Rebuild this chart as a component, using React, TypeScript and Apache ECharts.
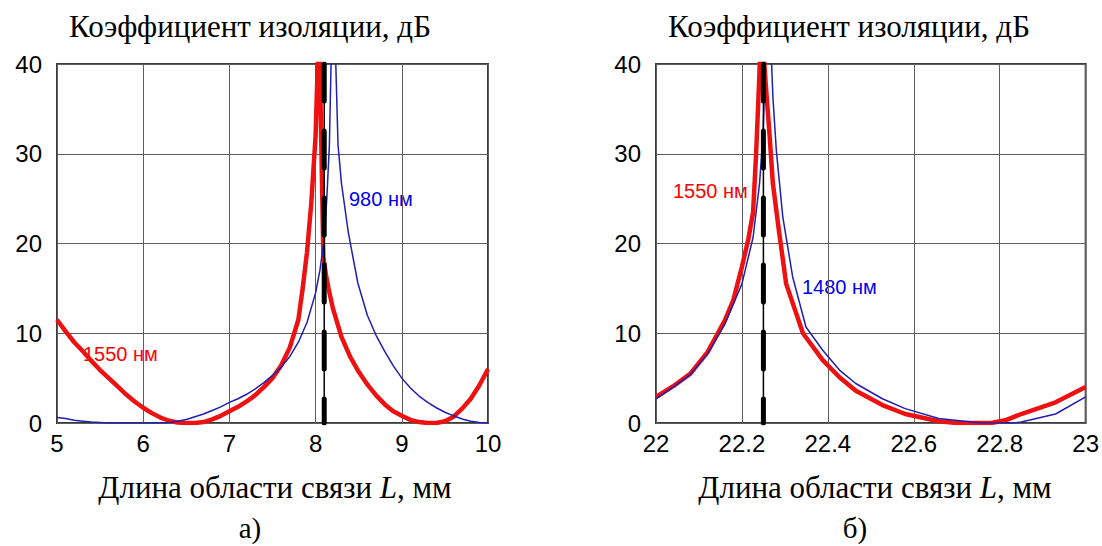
import React, { useEffect, useRef } from "react";
import * as echarts from "echarts";

// Panel а): L from 5 to 10 mm
const red1550A: [number, number][] = [
  [5.0, 11.5], [5.1, 10.2], [5.2, 9.0], [5.3, 8.0], [5.4, 6.9], [5.5, 5.9], [5.6, 5.0], [5.7, 4.1],
  [5.8, 3.2], [5.9, 2.4], [6.0, 1.7], [6.1, 1.1], [6.2, 0.6], [6.3, 0.25], [6.4, 0.05], [6.5, 0],
  [6.6, 0], [6.7, 0.1], [6.8, 0.4], [6.9, 0.8], [7.0, 1.3], [7.1, 1.8], [7.2, 2.4], [7.3, 3.1],
  [7.4, 4.0], [7.5, 5.0], [7.6, 6.4], [7.7, 8.4], [7.8, 11.5], [7.85, 15], [7.9, 19], [7.95, 24.5],
  [8.0, 32], [8.04, 45], [8.09, 18.5], [8.12, 16.5], [8.15, 15], [8.2, 12.8], [8.3, 9.6], [8.4, 7.4],
  [8.5, 5.7], [8.6, 4.3], [8.7, 3.1], [8.8, 2.1], [8.9, 1.3], [9.0, 0.8], [9.1, 0.35], [9.2, 0.1],
  [9.3, 0], [9.4, 0], [9.5, 0.2], [9.6, 0.7], [9.7, 1.6], [9.8, 2.7], [9.9, 4.2], [10.0, 6.0],
];
const blue980A: [number, number][] = [
  [5.0, 0.6], [5.1, 0.5], [5.2, 0.3], [5.3, 0.2], [5.4, 0.1], [5.5, 0.05], [5.6, 0], [6.2, 0],
  [6.3, 0.05], [6.4, 0.2], [6.5, 0.4], [6.6, 0.7], [6.7, 1.0], [6.8, 1.4], [6.9, 1.8], [7.0, 2.3],
  [7.1, 2.7], [7.2, 3.2], [7.3, 3.8], [7.4, 4.5], [7.5, 5.3], [7.6, 6.2], [7.7, 7.4], [7.8, 9.0],
  [7.9, 11.2], [8.0, 14.5], [8.05, 17], [8.1, 20.5], [8.13, 25], [8.16, 31], [8.19, 45], [8.22, 45],
  [8.24, 38], [8.26, 31], [8.3, 26.7], [8.38, 21.2], [8.49, 15.6], [8.6, 12], [8.7, 9.8], [8.8, 8.0],
  [8.9, 6.4], [9.0, 5.0], [9.1, 3.9], [9.2, 3.0], [9.3, 2.3], [9.4, 1.7], [9.5, 1.2], [9.6, 0.8],
  [9.7, 0.45], [9.8, 0.2], [9.9, 0.05], [10.0, 0],
];
const markerA = 8.1;

// Panel б): L from 22 to 23 mm
const red1550B: [number, number][] = [
  [22.0, 2.9], [22.04, 4.1], [22.08, 5.5], [22.12, 7.9], [22.16, 11.4], [22.18, 13.7], [22.2, 17.4],
  [22.215, 20.5], [22.226, 23.5], [22.233, 30], [22.24, 38], [22.245, 45], [22.255, 38], [22.264, 32.3],
  [22.272, 26.7], [22.287, 21.1], [22.303, 15.5], [22.342, 10], [22.388, 7], [22.427, 5.1],
  [22.465, 3.6], [22.527, 2.0], [22.58, 1.0], [22.658, 0.2], [22.7, 0], [22.78, 0], [22.813, 0.3],
  [22.85, 1.0], [22.93, 2.3], [23.0, 4.0],
];
const blue1480B: [number, number][] = [
  [22.0, 2.7], [22.04, 4.0], [22.08, 5.4], [22.12, 7.7], [22.16, 11.0], [22.2, 15.5], [22.226, 20.7],
  [22.241, 26.7], [22.249, 32], [22.258, 45], [22.265, 45], [22.272, 36.4], [22.28, 30.4],
  [22.295, 23], [22.318, 16.3], [22.349, 10.7], [22.388, 8.1], [22.427, 5.9], [22.465, 4.4],
  [22.527, 2.7], [22.58, 1.6], [22.658, 0.5], [22.735, 0.1], [22.76, 0], [22.83, 0], [22.85, 0.1],
  [22.93, 1.0], [23.0, 2.9],
];
const markerB = 22.25;

const yTicks = [0, 10, 20, 30, 40];
const xTicksA = [5, 6, 7, 8, 9, 10];
const xTicksB = [22, 22.2, 22.4, 22.6, 22.8, 23];

const yTitle = "Коэффициент изоляции, дБ";
const xTitleParts = ["Длина области связи ", "L", ", мм"];
const panelNames = ["а)", "б)"];
const curveNames = ["1550 нм", "980 нм", "1550 нм", "1480 нм"];

const RED = "#ee1111";
const BLUE = "#1f1fb0";
const SANS = "'Liberation Sans', Arial, sans-serif";
const SERIF = "'Liberation Serif', 'Times New Roman', serif";

export default function App() {
  const ref = useRef<HTMLDivElement>(null);
  useEffect(() => {
    document.body.style.margin = "0";
    const chart = echarts.init(ref.current!, undefined, { renderer: "svg" });
    const fmt = (ticks: number[]) => (v: number) => {
      const t = ticks.find((k) => Math.abs(k - v) < 1e-6);
      return t === undefined ? "" : String(t);
    };
    const gridBase = {
      top: 64,
      width: 431,
      height: 359,
      show: true,
      borderColor: "#3c3c3c",
      borderWidth: 2,
    };
    const xAx = (gi: number, ticks: number[], interval: number) => ({
      type: "value",
      gridIndex: gi,
      min: ticks[0],
      max: ticks[ticks.length - 1],
      interval,
      axisLine: { show: false },
      axisTick: { show: false },
      splitLine: { show: true, lineStyle: { color: "#5e5e5e", width: 1 } },
      axisLabel: {
        fontSize: 24,
        color: "#000",
        fontFamily: SANS,
        margin: 8,
        formatter: fmt(ticks),
        showMinLabel: true,
        showMaxLabel: true,
      },
    });
    const yAx = (gi: number) => ({
      type: "value",
      gridIndex: gi,
      min: yTicks[0],
      max: yTicks[yTicks.length - 1],
      interval: 10,
      axisLine: { show: false },
      axisTick: { show: false },
      splitLine: { show: true, lineStyle: { color: "#5e5e5e", width: 1 } },
      axisLabel: {
        fontSize: 24,
        color: "#000",
        fontFamily: SANS,
        margin: 15,
        formatter: fmt(yTicks),
      },
    });
    const curve = (data: [number, number][], idx: number, color: string, width: number, z: number) => ({
      type: "line",
      xAxisIndex: idx,
      yAxisIndex: idx,
      data,
      showSymbol: false,
      symbol: "none",
      clip: true,
      z,
      lineStyle: { color, width, join: "round" },
    });
    const marker = (x: number, idx: number) => [
      {
        type: "line",
        xAxisIndex: idx,
        yAxisIndex: idx,
        data: [[x, yTicks[yTicks.length - 1]], [x, yTicks[0]]],
        showSymbol: false,
        symbol: "none",
        z: 5,
        lineStyle: { color: "#000", width: 1.5 },
      },
      {
        type: "line",
        xAxisIndex: idx,
        yAxisIndex: idx,
        data: [[x, yTicks[yTicks.length - 1]], [x, yTicks[0]]],
        showSymbol: false,
        symbol: "none",
        z: 6,
        lineStyle: { color: "#000", width: 5, type: [37, 30], cap: "round" },
      },
    ];
    const serifText = (x: number, y: number, text: string, size = 31) => ({
      type: "text",
      x,
      y,
      style: {
        text,
        font: `${size}px ${SERIF}`,
        fill: "#000",
        align: "center",
        verticalAlign: "middle",
      },
    });
    const xTitle = (x: number) => ({
      type: "text",
      x,
      y: 487,
      style: {
        text: `{n|${xTitleParts[0]}}{i|${xTitleParts[1]}}{n|${xTitleParts[2]}}`,
        align: "center",
        verticalAlign: "middle",
        rich: {
          n: { fontSize: 31, fontFamily: SERIF, fill: "#000", color: "#000" },
          i: { fontSize: 31, fontFamily: SERIF, fontStyle: "italic", fill: "#000", color: "#000" },
        },
      },
    });
    const label = (x: number, y: number, text: string, color: string) => ({
      type: "text",
      x,
      y,
      style: { text, font: `20px ${SANS}`, fill: color, align: "left", verticalAlign: "middle" },
    });

    chart.setOption({
      animation: false,
      backgroundColor: "#fff",
      grid: [
        { ...gridBase, left: 57 },
        { ...gridBase, left: 656 },
      ],
      xAxis: [xAx(0, xTicksA, 1), xAx(1, xTicksB, 0.2)],
      yAxis: [yAx(0), yAx(1)],
      series: [
        curve(red1550A, 0, RED, 4.5, 2),
        curve(blue980A, 0, BLUE, 1.5, 3),
        ...marker(markerA, 0),
        curve(red1550B, 1, RED, 4.5, 2),
        curve(blue1480B, 1, BLUE, 1.5, 3),
        ...marker(markerB, 1),
      ],
      graphic: [
        serifText(250, 26, yTitle),
        serifText(849, 26, yTitle),
        xTitle(275),
        xTitle(875),
        serifText(250, 528, panelNames[0], 29),
        serifText(855, 528, panelNames[1], 29),
        label(83, 354, curveNames[0], "#ff0000"),
        label(349, 199, curveNames[1], "#0000ee"),
        label(673, 191, curveNames[2], "#ff0000"),
        label(802, 287, curveNames[3], "#0000ee"),
      ],
    });
    return () => chart.dispose();
  }, []);
  return <div ref={ref} style={{ width: 1102, height: 546 }} />;
}
